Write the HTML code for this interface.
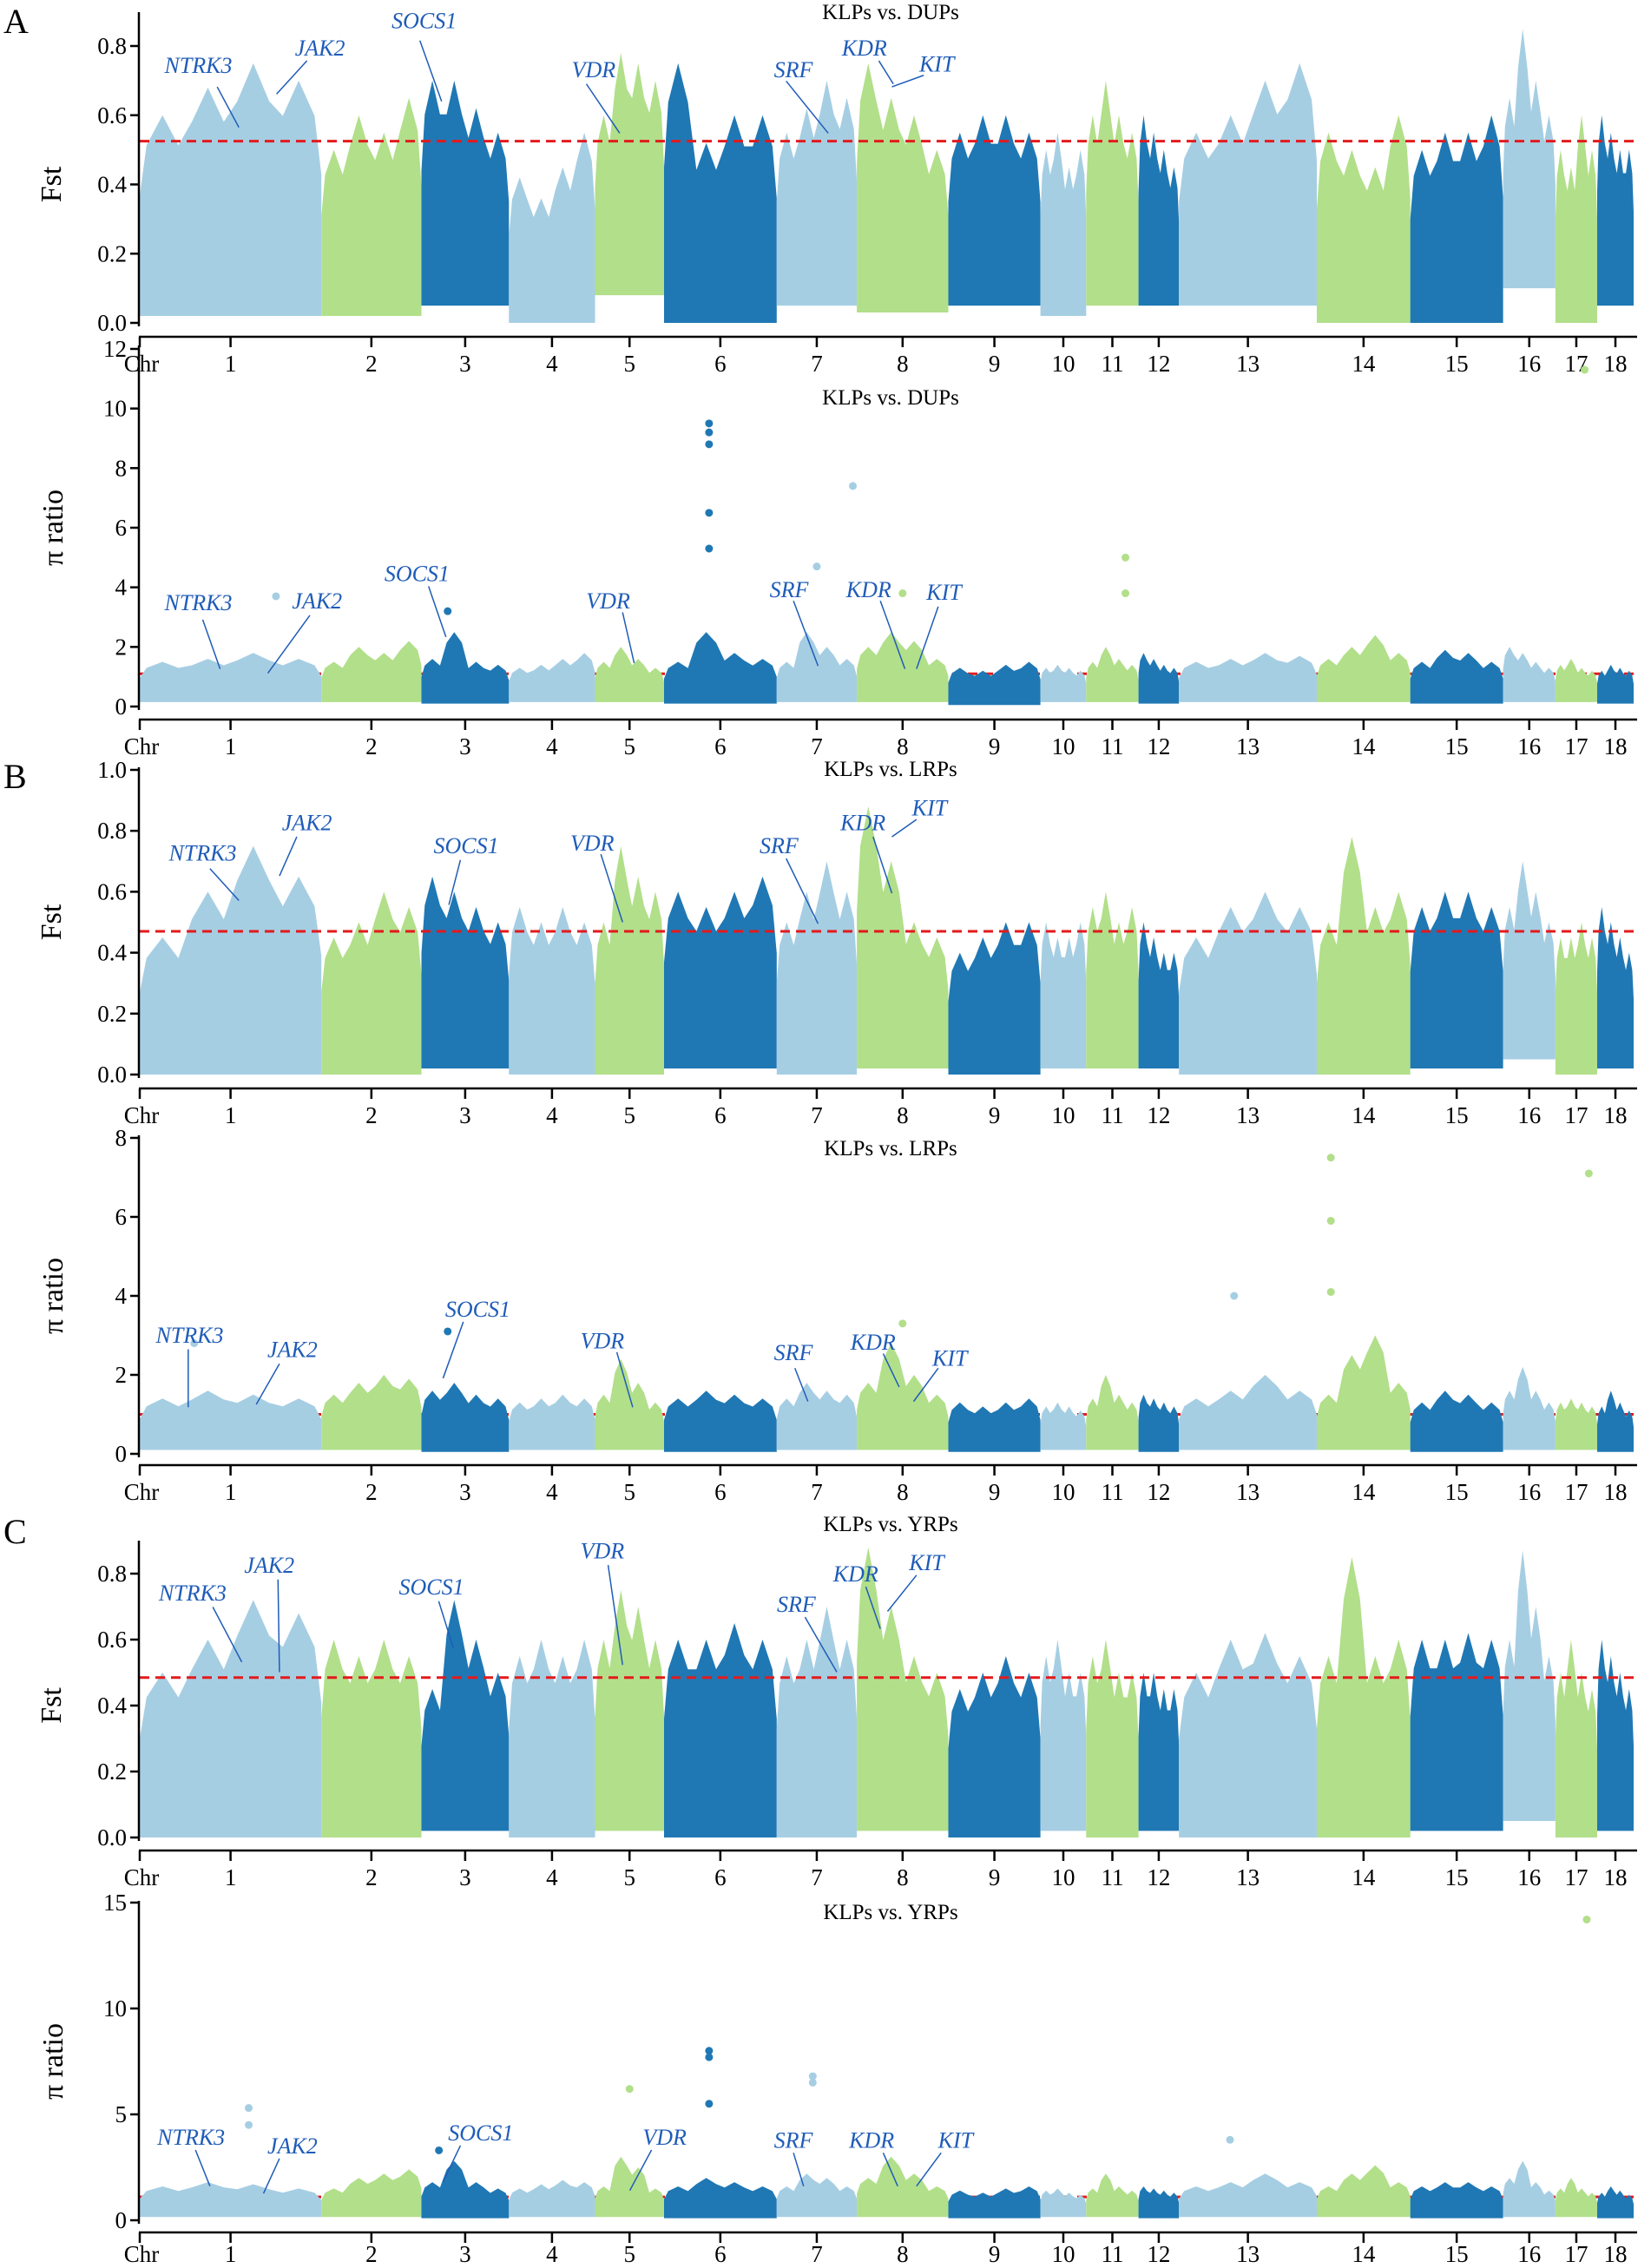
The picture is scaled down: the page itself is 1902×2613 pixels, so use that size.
<!DOCTYPE html>
<html><head><meta charset="utf-8"><style>
body{margin:0;background:#fff}
svg{display:block}
text{font-family:"Liberation Serif",serif;fill:#000}
.gene{font-style:italic;fill:#1f5cb8;font-size:26px}
</style></head><body>
<svg id="chart" width="1902" height="2613" viewBox="0 0 1902 2613" xmlns="http://www.w3.org/2000/svg"></svg>
<script>
// ---- data ----
const chromosomes = ["1","2","3","4","5","6","7","8","9","10","11","12","13","14","15","16","17","18"];
const chrLengths = [274,151,132,130,104,170,121,138,139,69,79,61,208,141,140,79,63,55];

const fstA_top = [[0.6,0.68,0.75,0.7],[0.5,0.6,0.55,0.65],[0.7,0.7,0.62,0.55],[0.42,0.36,0.45,0.55],[0.6,0.78,0.75,0.7],[0.75,0.52,0.6,0.6],[0.55,0.62,0.7,0.65],[0.75,0.65,0.6,0.5],[0.55,0.6,0.6,0.55],[0.5,0.55,0.45,0.5],[0.6,0.7,0.6,0.55],[0.6,0.55,0.5,0.45],[0.55,0.6,0.7,0.75],[0.55,0.5,0.45,0.6],[0.5,0.55,0.55,0.6],[0.65,0.85,0.7,0.6],[0.5,0.45,0.6,0.5],[0.6,0.55,0.5,0.5]];
const fstA_low = [0.02,0.02,0.05,0.0,0.08,0.0,0.05,0.03,0.05,0.02,0.05,0.05,0.05,0.0,0.0,0.1,0.0,0.05];
const piA_top = [[1.5,1.6,1.8,1.6],[1.5,2.0,1.8,2.2],[1.6,2.5,1.5,1.4],[1.3,1.4,1.6,1.8],[1.5,2.0,1.6,1.3],[1.5,2.5,1.8,1.6],[1.5,2.5,2.0,1.6],[2.0,2.5,2.2,1.6],[1.3,1.2,1.4,1.5],[1.3,1.4,1.3,1.2],[1.5,2.0,1.6,1.4],[1.8,1.6,1.4,1.3],[1.5,1.6,1.8,1.7],[1.6,2.0,2.4,1.8],[1.5,1.9,1.8,1.5],[2.0,1.8,1.5,1.3],[1.4,1.6,1.3,1.2],[1.2,1.4,1.3,1.2]];
const piA_low = [0.15,0.15,0.1,0.15,0.15,0.1,0.15,0.15,0.05,0.15,0.15,0.1,0.15,0.15,0.1,0.15,0.15,0.1];
const piA_outChr = [1,3,6,6,6,6,6,7,7,8,11,11,17];
const piA_outPos = [0.75,0.3,0.4,0.4,0.4,0.4,0.4,0.95,0.5,0.5,0.75,0.75,0.7];
const piA_outVal = [3.7,3.2,9.5,9.2,8.8,6.5,5.3,7.4,4.7,3.8,5.0,3.8,11.3];

const fstB_top = [[0.45,0.6,0.75,0.65],[0.45,0.5,0.6,0.55],[0.65,0.6,0.55,0.5],[0.55,0.5,0.55,0.5],[0.5,0.75,0.65,0.6],[0.6,0.55,0.6,0.65],[0.5,0.6,0.7,0.6],[0.88,0.7,0.5,0.45],[0.4,0.45,0.5,0.5],[0.5,0.45,0.45,0.5],[0.55,0.6,0.5,0.55],[0.5,0.45,0.4,0.4],[0.45,0.55,0.6,0.55],[0.5,0.78,0.55,0.6],[0.55,0.6,0.6,0.55],[0.55,0.7,0.6,0.5],[0.45,0.45,0.5,0.45],[0.55,0.5,0.45,0.4]];
const fstB_low = [0.0,0.0,0.02,0.0,0.0,0.02,0.0,0.02,0.0,0.02,0.02,0.02,0.0,0.0,0.02,0.05,0.0,0.02];
const piB_top = [[1.4,1.6,1.5,1.4],[1.5,1.8,2.0,1.9],[1.6,1.8,1.5,1.4],[1.3,1.4,1.5,1.4],[1.5,2.4,1.8,1.3],[1.4,1.6,1.5,1.4],[1.4,1.8,1.6,1.5],[1.8,2.8,2.0,1.5],[1.3,1.2,1.3,1.4],[1.2,1.3,1.2,1.1],[1.4,2.0,1.5,1.3],[1.5,1.4,1.3,1.2],[1.4,1.6,2.0,1.6],[1.5,2.5,3.0,1.8],[1.3,1.6,1.5,1.3],[1.6,2.2,1.6,1.3],[1.3,1.4,1.3,1.2],[1.2,1.6,1.3,1.1]];
const piB_low = [0.1,0.1,0.05,0.1,0.1,0.05,0.1,0.1,0.05,0.1,0.1,0.05,0.1,0.1,0.05,0.1,0.1,0.05];
const piB_outChr = [1,3,8,13,14,14,14,17];
const piB_outPos = [0.3,0.3,0.5,0.4,0.15,0.15,0.15,0.8];
const piB_outVal = [2.8,3.1,3.3,4.0,7.5,5.9,4.1,7.1];

const fstC_top = [[0.5,0.6,0.72,0.68],[0.6,0.55,0.6,0.55],[0.45,0.72,0.6,0.5],[0.55,0.6,0.55,0.6],[0.6,0.75,0.7,0.6],[0.6,0.6,0.65,0.6],[0.55,0.6,0.7,0.6],[0.88,0.7,0.55,0.5],[0.45,0.5,0.55,0.5],[0.55,0.6,0.5,0.5],[0.55,0.6,0.5,0.5],[0.5,0.5,0.45,0.45],[0.5,0.6,0.62,0.55],[0.55,0.85,0.55,0.6],[0.6,0.6,0.62,0.6],[0.6,0.87,0.7,0.55],[0.5,0.6,0.5,0.45],[0.6,0.55,0.5,0.45]];
const fstC_low = [0.0,0.0,0.02,0.0,0.02,0.0,0.0,0.02,0.0,0.02,0.0,0.02,0.0,0.0,0.02,0.05,0.0,0.02];
const piC_top = [[1.6,1.8,1.7,1.5],[1.5,2.0,2.2,2.4],[1.8,2.8,1.8,1.5],[1.5,1.7,1.9,1.8],[1.6,3.0,2.5,1.5],[1.6,2.0,1.8,1.6],[1.6,2.2,2.0,1.6],[2.0,3.0,2.2,1.6],[1.4,1.3,1.5,1.6],[1.4,1.5,1.3,1.2],[1.5,2.2,1.6,1.4],[1.6,1.5,1.4,1.3],[1.6,1.8,2.2,1.8],[1.6,2.2,2.6,1.8],[1.6,1.8,1.8,1.6],[2.0,2.8,1.8,1.4],[1.5,2.0,1.5,1.3],[1.3,1.6,1.4,1.2]];
const piC_low = [0.15,0.15,0.1,0.15,0.15,0.1,0.15,0.15,0.1,0.15,0.15,0.1,0.15,0.15,0.1,0.15,0.15,0.1];
const piC_outChr = [1,1,3,5,6,6,6,7,7,13,17];
const piC_outPos = [0.6,0.6,0.2,0.5,0.4,0.4,0.4,0.45,0.45,0.37,0.75];
const piC_outVal = [5.3,4.5,3.3,6.2,8.0,7.7,5.5,6.8,6.5,3.8,14.2];

const fstTicks = ["0.0","0.2","0.4","0.6","0.8"];
const fstTicksB = ["0.0","0.2","0.4","0.6","0.8","1.0"];
const piTicksA = ["0","2","4","6","8","10","12"];
const piTicksB = ["0","2","4","6","8"];
const piTicksC = ["0","5","10","15"];
const thresholds = [0.525,1.1,0.47,1.0,0.485,1.1];

// ---- drawing ----
const NS="http://www.w3.org/2000/svg";
const svg=document.getElementById('chart');
const colors=["#a6cee3","#b2df8a","#1f78b4"];
const X0=161,X1=1882;
const total=chrLengths.reduce((a,b)=>a+b,0);
const chrStart=[];{let c=0;for(const l of chrLengths){chrStart.push(c);c+=l;}}
function xScale(mb){return X0+(X1-X0)*mb/total;}
function mk(tag,attrs,parent){const e=document.createElementNS(NS,tag);for(const k in attrs)e.setAttribute(k,attrs[k]);(parent||svg).appendChild(e);return e;}

function panel(p){
  const g=mk('g',{});
  
  
  const y=v=>p.y0-(p.y0-p.yTop)*(v-p.vmin)/(p.vmax-p.vmin);
  const lblOff=p.lblOff||40;
  function thr(){
    const l=mk('line',{x1:X0,x2:X1,y1:y(p.thr),y2:y(p.thr),stroke:'#e31a1c','stroke-width':3,'stroke-dasharray':'11,7'},g);
    
    
  }
  if(!p.thrOnTop)thr();
  for(let c=0;c<chromosomes.length;c++){
    const bins=p.top[c],n=bins.length,len=chrLengths[c];
    const pts=[];
    pts.push([xScale(chrStart[c]),y(p.low[c]+(bins[0]-p.low[c])*0.6)]);
    for(let i=0;i<n;i++){
      pts.push([xScale(chrStart[c]+len*(i+0.15)/n),y(bins[i]*0.85+p.low[c]*0.15)]);
      pts.push([xScale(chrStart[c]+len*(i+0.5)/n),y(bins[i])]);
      pts.push([xScale(chrStart[c]+len*(i+0.85)/n),y(bins[i]*0.85+p.low[c]*0.15)]);
    }
    pts.push([xScale(chrStart[c]+len),y(p.low[c]+(bins[n-1]-p.low[c])*0.6)]);
    pts.push([xScale(chrStart[c]+len),y(p.low[c])]);
    pts.push([xScale(chrStart[c]),y(p.low[c])]);
    const poly=mk('polygon',{points:pts.map(q=>q[0].toFixed(1)+','+q[1].toFixed(1)).join(' '),fill:colors[c%3]},g);
    
    
  }
  if(p.outChr){
    for(let i=0;i<p.outChr.length;i++){
      const c=p.outChr[i]-1;
      const cx=xScale(chrStart[c]+chrLengths[c]*p.outPos[i]);
      const dot=mk('circle',{cx:cx,cy:y(p.outVal[i]),r:4.5,fill:colors[c%3]},g);
      
      
    }
  }
  if(p.thrOnTop)thr();
  const ya=mk('line',{x1:160,x2:160,y1:p.axTop,y2:p.y0+4,stroke:'#000','stroke-width':2.5},g);
  
  
  p.ticks.forEach(t=>{
    const v=parseFloat(t),yy=y(v);
    mk('line',{x1:150,x2:160,y1:yy,y2:yy,stroke:'#000','stroke-width':2.5},g);
    const tx=mk('text',{x:146,y:yy+9,'text-anchor':'end','font-size':27},g);
    tx.textContent=t;
    
    
  });
  const yt=mk('text',{x:0,y:0,'text-anchor':'middle','font-size':34,transform:`translate(${p.titleX},${(p.yTop+p.y0)/2}) rotate(-90)`},g);
  yt.textContent=p.ylabel;
  
  
  const xa=mk('line',{x1:160,x2:1886,y1:p.xAxis,y2:p.xAxis,stroke:'#000','stroke-width':2.5},g);
  
  
  mk('line',{x1:161,x2:161,y1:p.xAxis,y2:p.xAxis+12,stroke:'#000','stroke-width':2.5},g);
  const ch=mk('text',{x:163,y:p.xAxis+lblOff,'text-anchor':'middle','font-size':27},g);
  ch.textContent='Chr';
  
  
  chromosomes.forEach((c,i)=>{
    const cx=xScale(chrStart[i]+chrLengths[i]/2);
    mk('line',{x1:cx,x2:cx,y1:p.xAxis,y2:p.xAxis+12,stroke:'#000','stroke-width':2.5},g);
    const t=mk('text',{x:cx,y:p.xAxis+lblOff,'text-anchor':'middle','font-size':27},g);
    t.textContent=c;
    
    
  });
  const ti=mk('text',{x:1026,y:p.titleY,'text-anchor':'middle','font-size':25},g);
  ti.textContent=p.title;
  
  
  p.genes.forEach(gn=>{
    const s=1.668;
    const l=mk('line',{x1:gn[3]*s,y1:gn[4]*s,x2:gn[5]*s,y2:gn[6]*s,stroke:'#1f5cb8','stroke-width':1.5},g);
    
    
    const t=mk('text',{x:gn[1]*s,y:gn[2]*s+9,'text-anchor':'middle',class:'gene'},g);
    t.textContent=gn[0];
    
    
  });
}

panel({name:'panel-a-fst',top:fstA_top,low:fstA_low,vmin:0,vmax:0.8,y0:372,yTop:53,axTop:14,xAxis:388,ticks:fstTicks,ylabel:'Fst',titleX:70,title:'KLPs vs. DUPs',titleY:22,thr:thresholds[0],thrOnTop:true,
 genes:[['NTRK3',137,45,150,60,165,88],['JAK2',221,33,212,42,191,65],['SOCS1',293,14,290,28,305,70],['VDR',410,48,405,58,428,92],['SRF',548,48,543,56,572,92],['KDR',597,33,607,42,617,58],['KIT',647,44,638,52,616,60]]});
panel({name:'panel-a-pi',top:piA_top,low:piA_low,vmin:0,vmax:12,y0:814,yTop:402,axTop:398,xAxis:829,ticks:piTicksA,ylabel:'π ratio',titleX:72,title:'KLPs vs. DUPs',titleY:466,thr:thresholds[1],thrOnTop:false,outChr:piA_outChr,outPos:piA_outPos,outVal:piA_outVal,
 genes:[['NTRK3',137,416,140,428,152,462],['JAK2',219,415,214,425,185,465],['SOCS1',288,396,296,405,308,440],['VDR',420,415,430,423,438,458],['SRF',545,407,548,415,565,460],['KDR',600,407,608,415,625,462],['KIT',652,409,648,419,633,462]]});
panel({name:'panel-b-fst',top:fstB_top,low:fstB_low,vmin:0,vmax:1.0,y0:1238,yTop:887,axTop:884,xAxis:1254,ticks:fstTicksB,ylabel:'Fst',titleX:70,title:'KLPs vs. LRPs',titleY:894,thr:thresholds[2],thrOnTop:true,
 genes:[['NTRK3',140,589,145,600,165,622],['JAK2',212,568,205,578,193,605],['SOCS1',322,584,318,594,310,625],['VDR',409,582,415,590,430,637],['SRF',538,584,543,593,565,638],['KDR',596,568,603,578,616,617],['KIT',642,558,633,566,616,578]]});
panel({name:'panel-b-pi',top:piB_top,low:piB_low,vmin:0,vmax:8,y0:1675,yTop:1311,axTop:1308,xAxis:1688,ticks:piTicksB,ylabel:'π ratio',titleX:72,title:'KLPs vs. LRPs',titleY:1331,thr:thresholds[3],thrOnTop:false,outChr:piB_outChr,outPos:piB_outPos,outVal:piB_outVal,
 genes:[['NTRK3',131,922,130,932,130,972],['JAK2',202,932,193,942,177,970],['SOCS1',330,904,320,913,306,952],['VDR',416,926,426,934,437,972],['SRF',548,934,549,945,558,968],['KDR',603,927,610,935,621,958],['KIT',656,938,648,945,631,968]]});
panel({name:'panel-c-fst',top:fstC_top,low:fstC_low,vmin:0,vmax:0.8,y0:2117,yTop:1813,axTop:1775,xAxis:2132,ticks:fstTicks,ylabel:'Fst',titleX:70,title:'KLPs vs. YRPs',titleY:1764,thr:thresholds[4],thrOnTop:true,
 genes:[['NTRK3',133,1100,147,1110,167,1148],['JAK2',186,1081,192,1091,193,1155],['SOCS1',298,1096,303,1106,313,1138],['VDR',416,1071,420,1081,430,1150],['SRF',550,1108,556,1117,578,1155],['KDR',591,1087,598,1096,608,1125],['KIT',640,1079,633,1088,613,1113]]});
panel({name:'panel-c-pi',top:piC_top,low:piC_low,vmin:0,vmax:15,y0:2558,yTop:2192,axTop:2190,xAxis:2572,lblOff:34,ticks:piTicksC,ylabel:'π ratio',titleX:72,title:'KLPs vs. YRPs',titleY:2211,thr:thresholds[5],thrOnTop:false,outChr:piC_outChr,outPos:piC_outPos,outVal:piC_outVal,
 genes:[['NTRK3',132,1476,135,1485,145,1510],['JAK2',202,1482,193,1491,182,1515],['SOCS1',332,1473,318,1482,306,1507],['VDR',459,1476,450,1485,435,1513],['SRF',548,1478,548,1487,555,1510],['KDR',602,1478,610,1487,620,1510],['KIT',660,1478,650,1487,633,1510]]});

[['A',28],['B',898],['C',1768]].forEach(a=>{
  const t=mk('text',{x:4,y:a[1]+10,'font-size':40});
  t.textContent=a[0];
  
  
});
</script>
</body></html>
